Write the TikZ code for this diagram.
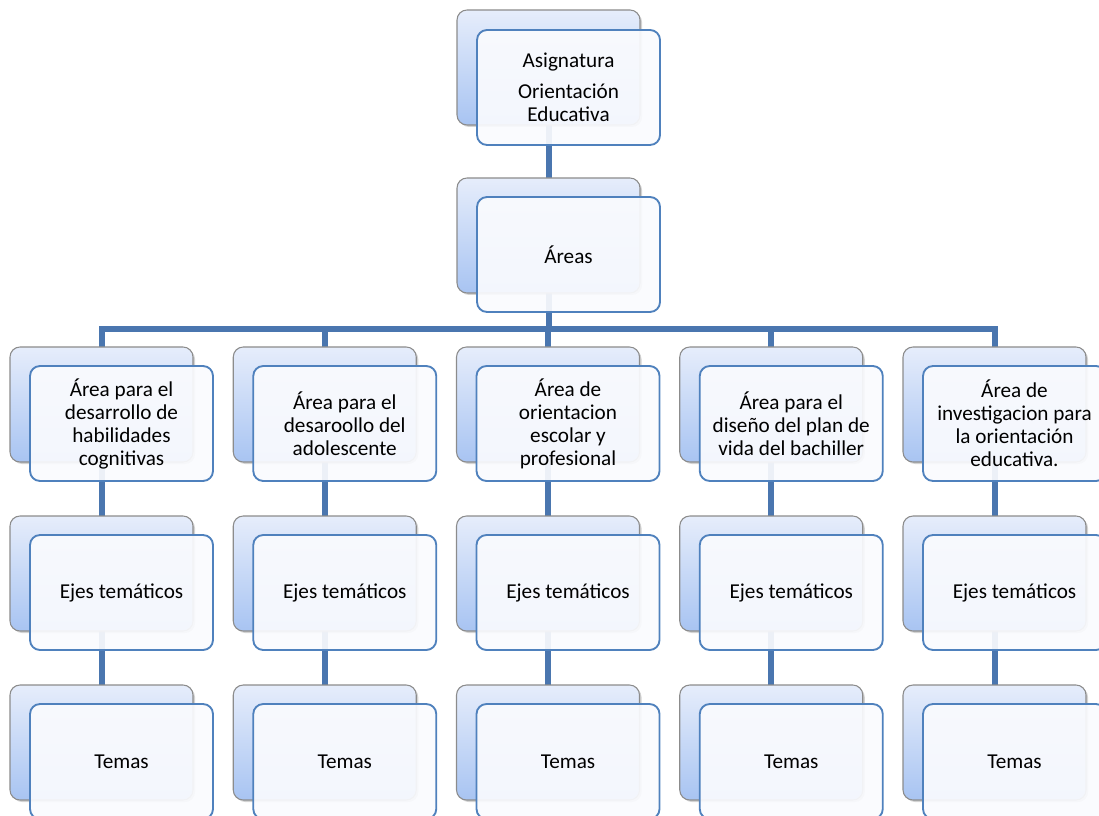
\documentclass[tikz,border=0pt]{standalone}
\usepackage{fontspec}
\setmainfont{Carlito}
\usetikzlibrary{shadows,backgrounds}
\definecolor{conncol}{HTML}{4A76AF}
\definecolor{frontline}{HTML}{4F81BD}
\definecolor{backline}{HTML}{8C8C8C}
\definecolor{backtop}{HTML}{E6EDFB}
\definecolor{backbot}{HTML}{A8C4F2}
\definecolor{frontfill}{HTML}{FAFBFE}
\tikzset{
  backbox/.style={draw=backline, line width=0.8pt, rounded corners=7.5pt,
    top color=backtop, bottom color=backbot,
    minimum width=137.25pt, minimum height=86.25pt, inner sep=0pt,
    drop shadow={shadow xshift=1.5pt, shadow yshift=-1.5pt, opacity=0.35}},
  frontbox/.style={draw=frontline, line width=1.4pt, rounded corners=7.5pt,
    fill=frontfill, fill opacity=0.92, text opacity=1,
    minimum width=137.25pt, minimum height=86.25pt, inner sep=0pt,
    align=center, font=\fontsize{15.9}{17.25}\selectfont},
  conn/.style={draw=conncol, line width=4.5pt},
}
\begin{document}
\begin{tikzpicture}[x=0.75pt,y=-0.75pt]
\useasboundingbox (0,0) rectangle (1099,816);
\clip (0,0) rectangle (1099,816);
% back boxes
\node[backbox] (topb) at (548.5,67.5) {};
\node[backbox] (areab) at (548.5,235.5) {};
\foreach \i/\bx in {1/101.5,2/324.75,3/548,4/771.25,5/994.5}{
  \node[backbox] (a\i b) at (\bx,404.5) {};
  \node[backbox] (e\i b) at (\bx,573.5) {};
  \node[backbox] (t\i b) at (\bx,742.5) {};
}
\coordinate (busL) at (101.5,329);
\coordinate (busR) at (994.5,329);
% connectors (behind boxes)
\begin{scope}[on background layer]
\draw[conn] (topb.center) -- (areab.center);
\draw[conn] (areab.center) -- (areab.center |- busL);
\draw[conn] (a1b.center) -- (busL) -- (busR) -- (a5b.center);
\foreach \i in {2,3,4}{\draw[conn] (a\i b.center) -- (a\i b.center |- busL);}
\foreach \i in {1,...,5}{\draw[conn] (a\i b.center) -- (e\i b.center) -- (t\i b.center);}
\end{scope}
% front boxes
\node[frontbox] (top) at (568.5,87.5) {Asignatura\\[6pt]Orientación\\Educativa};
\node[frontbox] (areas) at (568.5,254.5) {Áreas};
\foreach \i/\bx/\txt in {
  1/121.5/{Área para el\\desarrollo de\\habilidades\\cognitivas},
  2/344.75/{Área para el\\desaroollo del\\adolescente},
  3/568/{Área de\\orientacion\\escolar y\\profesional},
  4/791.25/{Área para el\\diseño del plan de\\vida del bachiller},
  5/1014.5/{Área de\\investigacion para\\la orientación\\educativa.}}{
  \node[frontbox] (a\i) at (\bx,423.5) {\txt};
  \node[frontbox] (e\i) at (\bx,592.5) {Ejes temáticos};
  \node[frontbox] (t\i) at (\bx,761.5) {Temas};
}
\end{tikzpicture}
\end{document}
